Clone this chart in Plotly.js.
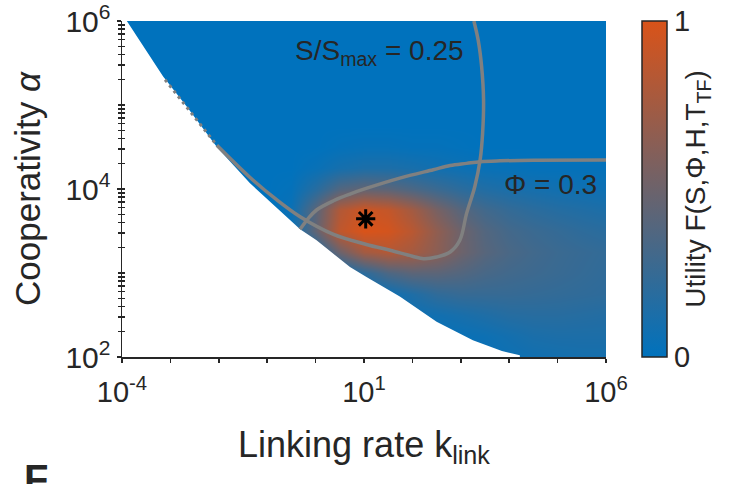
<!DOCTYPE html>
<html>
<head>
<meta charset="utf-8">
<script src="https://cdn.plot.ly/plotly-3.0.1.min.js"></script>
<style>html,body{margin:0;padding:0;background:#fff;}#chart{width:749px;height:484px;}</style>
</head>
<body>
<div id="chart"></div>
<script>
// Grid exponents: log10(k_link) and log10(alpha)
const logK = [-4,-3.5,-3,-2.5,-2,-1.5,-1,-0.5,0,0.5,1,1.5,2,2.5,3,3.5,4,4.5,5,5.5,6];
const logAlpha = [2,2.25,2.5,2.75,3,3.25,3.5,3.75,4,4.25,4.5,4.75,5,5.25,5.5,5.75,6];
// Utility values (rows = logAlpha, cols = logK)
const utility = [
  [0,0,0,0,0,0,0,0,0,0,0,0,0,0.02,0.03,0.04,0.06,0.08,0.09,0.10,0.10],
  [0,0,0,0,0,0,0,0,0,0,0,0,0.02,0.03,0.04,0.06,0.09,0.12,0.13,0.13,0.13],
  [0,0,0,0,0,0,0,0,0,0,0,0.03,0.06,0.08,0.11,0.14,0.17,0.18,0.18,0.17,0.16],
  [0,0,0,0,0,0,0,0,0,0,0.02,0.06,0.14,0.22,0.25,0.25,0.25,0.24,0.23,0.22,0.21],
  [0,0,0,0,0,0,0,0,0.02,0.05,0.20,0.35,0.42,0.42,0.38,0.33,0.30,0.28,0.26,0.24,0.22],
  [0,0,0,0,0,0,0,0.02,0.12,0.50,0.75,0.82,0.76,0.64,0.50,0.40,0.34,0.30,0.27,0.25,0.23],
  [0,0,0,0,0,0,0,0.05,0.45,0.88,1.00,0.97,0.85,0.66,0.50,0.38,0.31,0.27,0.24,0.21,0.19],
  [0,0,0,0,0,0,0,0.05,0.42,0.82,0.95,0.90,0.75,0.55,0.40,0.30,0.24,0.20,0.17,0.15,0.13],
  [0,0,0,0,0,0,0,0.02,0.18,0.38,0.45,0.42,0.35,0.27,0.20,0.15,0.12,0.10,0.08,0.07,0.06],
  [0,0,0,0,0,0,0,0,0.04,0.10,0.13,0.13,0.11,0.08,0.06,0.04,0.03,0.02,0.02,0.02,0.02],
  [0,0,0,0,0,0,0,0,0,0.02,0.03,0.03,0.02,0.02,0.01,0,0,0,0,0,0],
  [0,0,0,0,0,0,0,0,0,0,0,0,0,0,0,0,0,0,0,0,0],
  [0,0,0,0,0,0,0,0,0,0,0,0,0,0,0,0,0,0,0,0,0],
  [0,0,0,0,0,0,0,0,0,0,0,0,0,0,0,0,0,0,0,0,0],
  [0,0,0,0,0,0,0,0,0,0,0,0,0,0,0,0,0,0,0,0,0],
  [0,0,0,0,0,0,0,0,0,0,0,0,0,0,0,0,0,0,0,0,0],
  [0,0,0,0,0,0,0,0,0,0,0,0,0,0,0,0,0,0,0,0,0]
];
// Edge of the computed (feasible) region, exponents
const edgeLogK = [-3.90,-3.15,-2.66,-2.04,-1.36,-0.67,-0.32,0.02,0.37,0.71,1.06,1.74,2.50,3.25,3.85,4.22,4.22];
const edgeLogA = [6.00,5.34,4.98,4.50,4.07,3.71,3.52,3.39,3.23,3.07,2.95,2.72,2.42,2.20,2.07,2.02,2.00];
// S/Smax = 0.25 contour (hidden part along the edge, then visible part)
const sHiddenLogK = [-3.11,-2.60,-2.04];
const sHiddenLogA = [5.30,4.93,4.52];
const sLogK = [-2.04,-1.36,-0.80,-0.32,0.37,1.05,1.54,2.00,2.23,2.50,2.78,2.98,3.12,3.29,3.40,3.45,3.47,3.43,3.36,3.27];
const sLogA = [4.52,4.14,3.87,3.67,3.46,3.34,3.27,3.20,3.17,3.19,3.25,3.39,3.71,4.03,4.35,4.66,5.06,5.46,5.77,6.00];
// Phi = 0.3 contour
const phiLogK = [-0.32,-0.15,0.02,0.37,0.71,1.06,1.74,2.43,2.78,3.12,3.40,3.81,4.50,6.00];
const phiLogA = [3.52,3.65,3.75,3.86,3.94,4.01,4.13,4.23,4.28,4.305,4.325,4.335,4.342,4.345];
// Optimum marker
const optLogK = [1.035];
const optLogA = [3.645];
// Tick labels
const xTickExp = [-4,-3,-2,-1,0,1,2,3,4,5,6];
const xTickText = ['10<sup>-4</sup>','','','','','10<sup>1</sup>','','','','','10<sup>6</sup>'];
const yTickExp = [2,4,6];
const yTickText = ['10<sup>2</sup>','10<sup>4</sup>','10<sup>6</sup>'];

const p10 = v => Math.pow(10, v);
const ink = '#262626';
const grey = '#808080';

const yMinor = [];
for (let d = 2; d <= 5; d++) {
  for (let k = 1; k <= 9; k++) {
    if (k === 1 && d % 2 === 0) continue;
    yMinor.push(k * Math.pow(10, d));
  }
}

const edgeX = edgeLogK.map(p10).concat([1e-4, 1e-4]);
const edgeY = edgeLogA.map(p10).concat([1e2, 1e6]);

const traces = [
  {
    type: 'heatmap', x: logK.map(p10), y: logAlpha.map(p10), z: utility,
    zmin: 0, zmax: 1, zsmooth: 'best', hoverinfo: 'skip',
    colorscale: [[0, '#0072BD'], [1, '#D95319']],
    colorbar: {
      x: 1.0744, xanchor: 'left', xpad: 0, y: 0.5, yanchor: 'middle', ypad: 0,
      len: 1, lenmode: 'fraction', thickness: 25, thicknessmode: 'pixels',
      outlinecolor: ink, outlinewidth: 1.5,
      tickvals: [0, 1], ticktext: ['0', '1'], ticks: '',
      ticklabeloverflow: 'allow',
      tickfont: {size: 29, color: ink},
      title: {text: 'Utility F(S,Φ,H,T<sub>TF</sub>)', side: 'right', font: {size: 28, color: ink}}
    }
  },
  {
    type: 'scatter', mode: 'lines', x: edgeX, y: edgeY, fill: 'toself',
    fillcolor: '#ffffff', line: {width: 0, color: '#ffffff'}, hoverinfo: 'skip'
  },
  {
    type: 'scatter', mode: 'lines', x: sHiddenLogK.map(p10), y: sHiddenLogA.map(p10),
    line: {color: grey, width: 3, dash: '3px,4px'}, hoverinfo: 'skip'
  },
  {
    type: 'scatter', mode: 'lines', x: sLogK.map(p10), y: sLogA.map(p10),
    line: {color: grey, width: 3.5, shape: 'spline', smoothing: 1}, hoverinfo: 'skip'
  },
  {
    type: 'scatter', mode: 'lines', x: phiLogK.map(p10), y: phiLogA.map(p10),
    line: {color: grey, width: 3.5, shape: 'spline', smoothing: 1}, hoverinfo: 'skip'
  },
  {
    type: 'scatter', mode: 'markers', x: optLogK.map(p10), y: optLogA.map(p10),
    marker: {symbol: 'asterisk-open', size: 16, color: '#000', line: {color: '#000', width: 3}},
    hoverinfo: 'skip'
  },
  {type: 'scatter', mode: 'markers', x: [], y: [], yaxis: 'y2', hoverinfo: 'skip'}
];

const layout = {
  width: 749, height: 484,
  margin: {l: 122, r: 143, t: 21, b: 127, pad: 0},
  paper_bgcolor: '#ffffff', plot_bgcolor: '#ffffff',
  showlegend: false,
  font: {family: '"Liberation Sans", Arial, sans-serif', color: ink},
  xaxis: {
    type: 'log', range: [-4, 6], showgrid: false, zeroline: false,
    showline: true, linecolor: ink, linewidth: 1.5,
    tickmode: 'array', tickvals: xTickExp.map(p10), ticktext: xTickText,
    ticks: 'outside', ticklen: 4, tickwidth: 1.5, tickcolor: ink,
    ticklabelstandoff: 5, ticklabeloverflow: 'allow',
    tickfont: {size: 29, color: ink},
    title: {text: 'Linking rate k<sub>link</sub>', font: {size: 36, color: ink}, standoff: 24}
  },
  yaxis: {
    type: 'log', range: [2, 6], showgrid: false, zeroline: false,
    showline: true, linecolor: ink, linewidth: 1.5,
    tickmode: 'array', tickvals: yTickExp.map(p10), ticktext: yTickText,
    ticks: 'outside', ticklen: 4, tickwidth: 1.5, tickcolor: ink,
    ticklabeloverflow: 'allow',
    minor: {tickmode: 'array', tickvals: yMinor, ticks: 'outside', ticklen: 2.5, tickwidth: 1.5, tickcolor: ink, showgrid: false},
    tickfont: {size: 30, color: ink},
    title: {text: 'Cooperativity <i>α</i>', font: {size: 35, color: ink}, standoff: 14}
  },
  yaxis2: {
    type: 'log', range: [2, 6], overlaying: 'y', side: 'left', anchor: 'x',
    showgrid: false, zeroline: false, showline: false, showticklabels: false,
    tickmode: 'array', tickvals: yTickExp.map(p10),
    ticks: 'inside', ticklen: 3, tickwidth: 1.5, tickcolor: ink,
    minor: {tickmode: 'array', tickvals: yMinor, ticks: 'inside', ticklen: 2.5, tickwidth: 1.5, tickcolor: ink, showgrid: false}
  },
  annotations: [
    {xref: 'paper', yref: 'paper', x: 0.353, y: 0.905, xanchor: 'left', yanchor: 'middle',
     text: 'S/S<sub>max</sub> = 0.25', showarrow: false, font: {size: 28, color: ink}},
    {xref: 'paper', yref: 'paper', x: 0.785, y: 0.512, xanchor: 'left', yanchor: 'middle',
     text: 'Φ = 0.3', showarrow: false, font: {size: 28, color: ink}},
    {xref: 'paper', yref: 'paper', x: -0.207, y: -0.292, xanchor: 'left', yanchor: 'top',
     text: '<b>F</b>', showarrow: false, font: {size: 40, color: ink}}
  ]
};

Plotly.newPlot('chart', traces, layout, {staticPlot: true, displayModeBar: false});
</script>
</body>
</html>
